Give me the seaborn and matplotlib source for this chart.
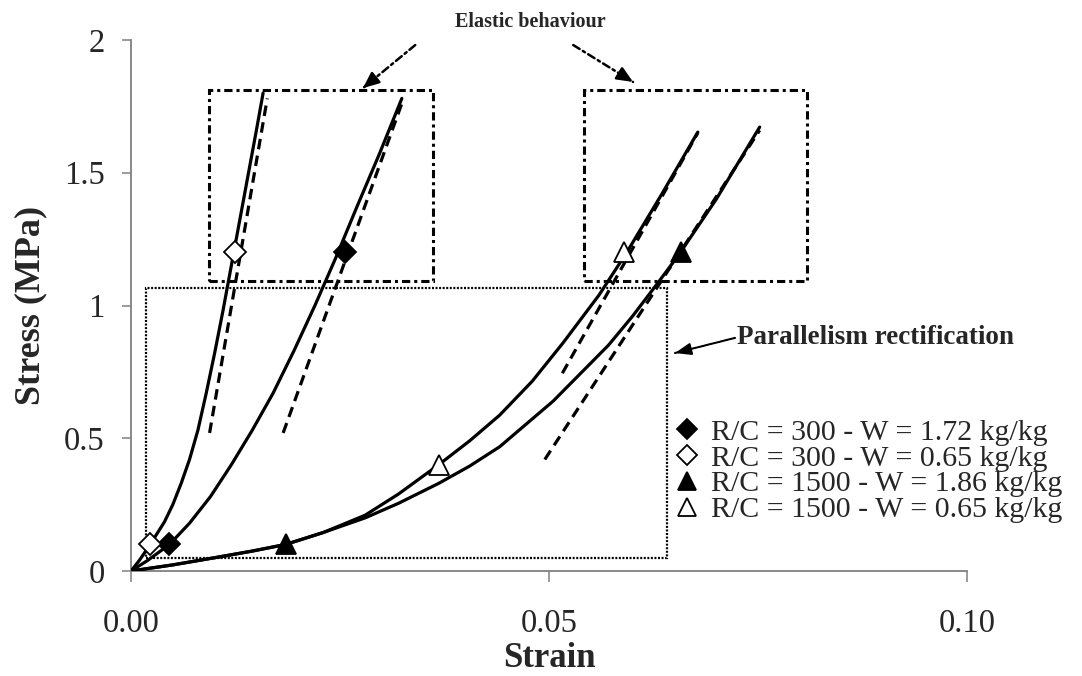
import numpy as np
import pandas as pd
import seaborn as sns
import matplotlib
matplotlib.use("Agg")
import matplotlib.pyplot as plt
from matplotlib.lines import Line2D
from matplotlib.patches import Rectangle

# ---------------- data ----------------
series_labels = ["R/C = 300 - W = 1.72 kg/kg", "R/C = 300 - W = 0.65 kg/kg",
                 "R/C = 1500 - W = 1.86 kg/kg", "R/C = 1500 - W = 0.65 kg/kg"]

# stress-strain curves (solid)
c300_172_x = [0, 0.002, 0.0046, 0.007, 0.0095, 0.012, 0.0145, 0.017, 0.0195,
              0.022, 0.0245, 0.027, 0.0297, 0.0324]
c300_172_y = [0, 0.04, 0.10, 0.18, 0.28, 0.40, 0.53, 0.67, 0.83,
              1.00, 1.18, 1.37, 1.57, 1.78]
c300_065_x = [0, 0.001, 0.0023, 0.003, 0.004, 0.005, 0.006, 0.007, 0.008, 0.009,
              0.010, 0.011, 0.012, 0.013, 0.014, 0.015, 0.0158]
c300_065_y = [0, 0.04, 0.10, 0.135, 0.185, 0.25, 0.33, 0.42, 0.53, 0.67,
              0.82, 0.98, 1.15, 1.32, 1.49, 1.66, 1.80]
c1500_186_x = [0, 0.005, 0.010, 0.0145, 0.0185, 0.023, 0.028, 0.032, 0.0368, 0.0405,
               0.0441, 0.0505, 0.0571, 0.060, 0.0629, 0.0655, 0.070, 0.0752]
c1500_186_y = [0, 0.023, 0.05, 0.075, 0.10, 0.145, 0.20, 0.255, 0.33, 0.395,
               0.468, 0.64, 0.85, 0.96, 1.08, 1.19, 1.40, 1.672]
c1500_065_x = [0, 0.005, 0.010, 0.0145, 0.0185, 0.023, 0.028, 0.032, 0.0368, 0.0405,
               0.0441, 0.048, 0.0517, 0.056, 0.0593, 0.0635, 0.0678]
c1500_065_y = [0, 0.023, 0.05, 0.075, 0.10, 0.145, 0.21, 0.29, 0.40, 0.49,
               0.587, 0.715, 0.86, 1.04, 1.20, 1.42, 1.653]

# elastic (linear) fits (dashed)
e300_172_x = [0.0182, 0.0325]
e300_172_y = [0.52, 1.77]
e300_065_x = [0.0094, 0.0163]
e300_065_y = [0.52, 1.78]
e1500_186_x = [0.0495, 0.0752]
e1500_186_y = [0.42, 1.66]
e1500_065_x = [0.0516, 0.0678]
e1500_065_y = [0.745, 1.65]

# markers
m300_172_x = [0.0046, 0.0256]
m300_172_y = [0.10, 1.20]
m300_065_x = [0.0023, 0.0124]
m300_065_y = [0.10, 1.20]
m1500_186_x = [0.0185, 0.0658]
m1500_186_y = [0.10, 1.20]
m1500_065_x = [0.0368, 0.0590]
m1500_065_y = [0.40, 1.20]

x_ticks = [0.0, 0.05, 0.10]
x_tick_labels = ["0.00", "0.05", "0.10"]
y_ticks = [0, 0.5, 1, 1.5, 2]
y_tick_labels = ["0", "0.5", "1", "1.5", "2"]

# ---------------- style ----------------
sns.set_theme(style="white")
plt.rcParams["font.family"] = ["Liberation Serif", "DejaVu Serif"]

W, H = 1082, 676
fig = plt.figure(figsize=(W / 100, H / 100), dpi=100)
ax = fig.add_axes([131 / W, 1 - 571 / H, (967 - 131) / W, (571 - 40) / H])

curves = [(c300_172_x, c300_172_y), (c300_065_x, c300_065_y),
          (c1500_186_x, c1500_186_y), (c1500_065_x, c1500_065_y)]
fits = [(e300_172_x, e300_172_y), (e300_065_x, e300_065_y),
        (e1500_186_x, e1500_186_y), (e1500_065_x, e1500_065_y)]
marks = [(m300_172_x, m300_172_y, "D", "black", 11),
         (m300_065_x, m300_065_y, "D", "white", 11),
         (m1500_186_x, m1500_186_y, "^", "black", 14),
         (m1500_065_x, m1500_065_y, "^", "white", 14)]

for (cx, cy) in curves:
    df = pd.DataFrame({"x": cx, "y": cy})
    sns.lineplot(data=df, x="x", y="y", ax=ax, sort=False, estimator=None,
                 color="black", lw=2.3, zorder=3)
for (fx, fy) in fits:
    df = pd.DataFrame({"x": fx, "y": fy})
    sns.lineplot(data=df, x="x", y="y", ax=ax, sort=False, estimator=None,
                 color="black", lw=2.3, linestyle=(0, (3.3, 2.0)), zorder=3)
for (mx, my, mk, fc, ms) in marks:
    ax.plot(mx, my, linestyle="none", marker=mk, markersize=ms,
            markerfacecolor=fc, markeredgecolor="black", markeredgewidth=1.3,
            zorder=5)

# boxes
dashdot = (0, (2.7, 1.3, 1.0, 1.3))
ax.add_patch(Rectangle((0.00933, 1.092), 0.0361 - 0.00933, 1.812 - 1.092,
                       fill=False, ec="black", lw=2.2, linestyle=dashdot, zorder=2))
ax.add_patch(Rectangle((0.0542, 1.092), 0.0809 - 0.0542, 1.812 - 1.092,
                       fill=False, ec="black", lw=2.2, linestyle=dashdot, zorder=2))
ax.add_patch(Rectangle((0.0018, 0.049), 0.0641 - 0.0018, 1.066 - 0.049,
                       fill=False, ec="black", lw=1.6, linestyle=(0, (0.9, 0.7)), zorder=2))


def styled_arrow(tip, tail, lw, ls, head_w):
    # shaft in the given line style, head drawn solid
    ax.annotate("", xy=tip, xytext=tail,
                arrowprops=dict(arrowstyle="-", color="black", lw=lw,
                                linestyle=ls, shrinkA=0, shrinkB=0),
                annotation_clip=False)
    near = (tip[0] + 0.15 * (tail[0] - tip[0]), tip[1] + 0.15 * (tail[1] - tip[1]))
    ax.annotate("", xy=tip, xytext=near,
                arrowprops=dict(arrowstyle=f"-|>,head_length=0.8,head_width={head_w}",
                                color="black", lw=lw, shrinkA=0, shrinkB=0),
                annotation_clip=False)


# annotations
ax.text(0.0478, 2.068, "Elastic behaviour", ha="center", va="center",
        fontsize=14.5, fontweight="bold", clip_on=False)
styled_arrow((0.02775, 1.819), (0.0340, 1.981), 1.8, (0, (3, 1.5, 1, 1.5)), 0.35)
styled_arrow((0.06005, 1.842), (0.0529, 1.981), 1.8, (0, (3, 1.5, 1, 1.5)), 0.35)
ax.text(0.0725, 0.878, "Parallelism rectification", ha="left", va="center",
        fontsize=19.5, fontweight="bold", clip_on=False)
styled_arrow((0.06507, 0.821), (0.07225, 0.878), 1.5, (0, (1, 0.6)), 0.3)

# axes
ax.set_xlim(0, 0.10)
ax.set_ylim(0, 2)
ax.set_xticks(x_ticks)
ax.set_xticklabels(x_tick_labels)
ax.set_yticks(y_ticks)
ax.set_yticklabels(y_tick_labels)
for s in ["top", "right"]:
    ax.spines[s].set_visible(False)
for s in ["left", "bottom"]:
    ax.spines[s].set_color("#808080")
    ax.spines[s].set_linewidth(1.3)
ax.tick_params(axis="x", direction="out", length=8, width=1.1, color="#808080",
               labelsize=23.5, pad=19, bottom=True)
ax.tick_params(axis="y", direction="out", length=6.5, width=1.1, color="#808080",
               labelsize=23.5, pad=12.5, left=True)
ax.set_xlabel("Strain", fontsize=25, fontweight="bold")
ax.set_ylabel("Stress (MPa)", fontsize=26, fontweight="bold")
ax.xaxis.set_label_coords(0.5, -0.134)
ax.yaxis.set_label_coords(-0.1005, 0.5)
ax.grid(False)

handles = [Line2D([], [], linestyle="none", marker=mk, markersize=ms * 0.95,
                  markerfacecolor=fc, markeredgecolor="black", markeredgewidth=1.3)
           for (_, _, mk, fc, ms) in marks]
leg = fig.legend(handles, series_labels, loc="upper left",
                 bbox_to_anchor=(674 / W, 1 - 419 / H), frameon=False,
                 fontsize=21.5, handlelength=0.9, handletextpad=0.35,
                 labelspacing=-0.04, borderpad=0, borderaxespad=0)

fig.savefig("out.png", dpi=100)
